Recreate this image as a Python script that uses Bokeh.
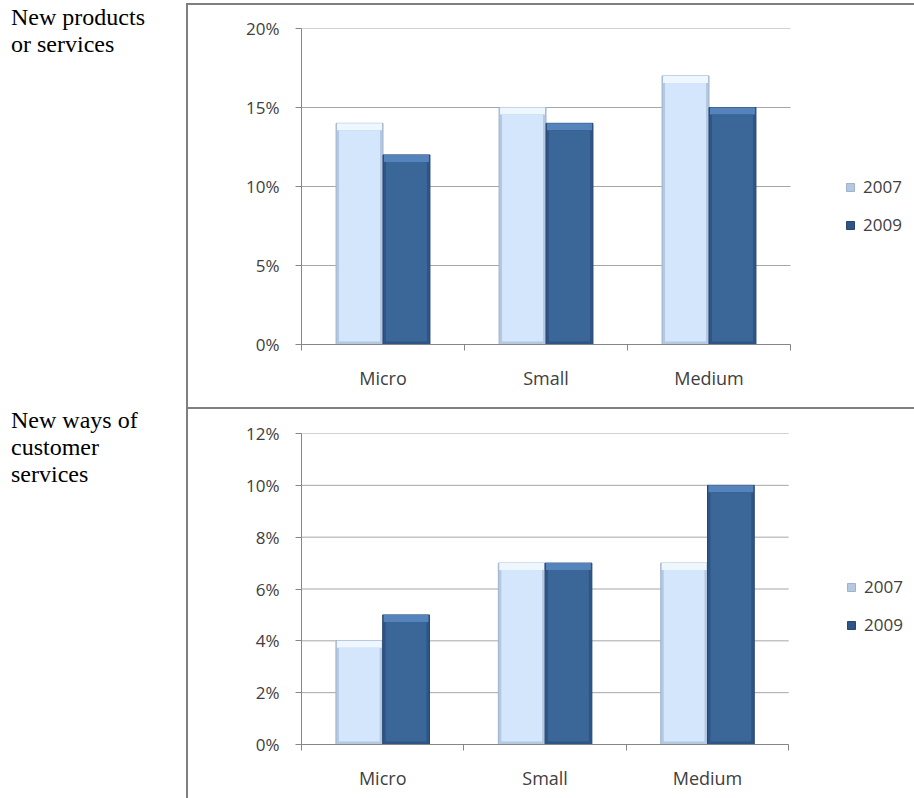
from bokeh.plotting import figure
from bokeh.layouts import row, column
from bokeh.models import (Div, Spacer, FixedTicker, NumeralTickFormatter, Legend,
                          LegendItem, Range1d)
from bokeh.embed import file_html
from bokeh.resources import INLINE

# ---- data -------------------------------------------------------------
categories = ["Micro", "Small", "Medium"]
years = ["2007", "2009"]

products_2007 = [0.14, 0.15, 0.17]
products_2009 = [0.12, 0.14, 0.15]
products_ticks = [0.0, 0.05, 0.10, 0.15, 0.20]

service_2007 = [0.04, 0.07, 0.07]
service_2009 = [0.05, 0.07, 0.10]
service_ticks = [0.0, 0.02, 0.04, 0.06, 0.08, 0.10, 0.12]

panel_titles = ["New products<br>or services", "New ways of<br>customer<br>services"]

# ---- style ------------------------------------------------------------
FONT = "Open Sans"
TEXT = "#404040"
AXIS = "#868686"
GRID = "#a6a6a6"
FRAME = "#7f7f7f"

LIGHT = dict(side="#b4c8e1", edge="#9fb3cc", face="#d4e6fc", top="#eef6fe")
DARK = dict(side="#2f5586", edge="#27466f", face="#3b6698", top="#5583bb")

FIG_W = 726
BAR_W = 0.288
LEGEND_ROW = 23      # height of one legend entry, px
LEGEND_GAP = 15


def bevel_bars(p, xs, tops, px_x, px_y, c):
    """Column with a bevelled look: dark rim, light top band, inset face."""
    body = p.vbar(x=xs, top=tops, bottom=0, width=BAR_W,
                  fill_color=c["side"], line_color=c["edge"], line_width=1)
    half = BAR_W / 2
    p.quad(left=[x - half + px_x for x in xs], right=[x + half - px_x for x in xs],
           top=tops, bottom=[t - 7 * px_y for t in tops],
           fill_color=c["top"], line_color=None)
    p.vbar(x=xs, top=[t - 7 * px_y for t in tops], bottom=3 * px_y,
           width=BAR_W - 6 * px_x, fill_color=c["face"], line_color=None)
    return body


def make_chart(v07, v09, ticks, height, b_left, plot_w, b_top, frame_h,
               legend_x, legend_top):
    """plot_w is the width of the category area; the frame runs on to the
    right edge so that the legend can sit beside the columns."""
    ymax = ticks[-1]
    n = len(categories)
    frame_w = FIG_W - b_left
    x_end = n * frame_w / plot_w
    p = figure(width=FIG_W, height=height,
               x_range=Range1d(0, x_end), y_range=Range1d(0, ymax),
               output_backend="svg", toolbar_location=None,
               min_border_left=b_left, min_border_right=0,
               min_border_top=b_top, min_border_bottom=height - b_top - frame_h)
    p.outline_line_color = None
    p.background_fill_color = "white"
    p.border_fill_color = "white"

    # horizontal gridlines across the category area only
    p.xgrid.visible = False
    p.ygrid.visible = False
    p.segment(x0=[0] * len(ticks), x1=[n] * len(ticks), y0=ticks, y1=ticks,
              line_color=GRID, line_width=1)

    px_x = n / plot_w
    px_y = ymax / frame_h
    centers = [i + 0.5 for i in range(n)]
    off = BAR_W / 2
    r07 = bevel_bars(p, [c - off for c in centers], v07, px_x, px_y, LIGHT)
    r09 = bevel_bars(p, [c + off for c in centers], v09, px_x, px_y, DARK)

    # category axis: labels centred, tick marks on the category boundaries
    xa = p.xaxis[0]
    xa.bounds = (0, n)
    xa.ticker = FixedTicker(ticks=centers, minor_ticks=list(range(n + 1)))
    xa.major_label_overrides = {c: lab for c, lab in zip(centers, categories)}
    xa.major_tick_line_color = None
    xa.minor_tick_line_color = AXIS
    xa.minor_tick_in = 0
    xa.minor_tick_out = 6
    xa.axis_line_color = AXIS
    xa.major_label_standoff = 15
    xa.major_label_text_font = FONT
    xa.major_label_text_font_size = "18px"
    xa.major_label_text_color = TEXT

    ya = p.yaxis[0]
    ya.ticker = FixedTicker(ticks=ticks, minor_ticks=[])
    ya.formatter = NumeralTickFormatter(format="0%")
    ya.axis_line_color = AXIS
    ya.major_tick_line_color = AXIS
    ya.major_tick_in = 0
    ya.major_tick_out = 6
    ya.major_label_standoff = 16
    ya.major_label_text_font = FONT
    ya.major_label_text_font_size = "17px"
    ya.major_label_text_color = TEXT

    legend_h = 2 * LEGEND_ROW + LEGEND_GAP
    legend = Legend(items=[LegendItem(label=years[0], renderers=[r07]),
                           LegendItem(label=years[1], renderers=[r09])],
                    location=(legend_x, frame_h - legend_top - legend_h),
                    orientation="vertical",
                    padding=0, margin=0, spacing=LEGEND_GAP, label_height=20,
                    glyph_width=10, glyph_height=10, label_standoff=8,
                    border_line_color=None, background_fill_alpha=0,
                    label_text_font=FONT, label_text_font_size="17px",
                    label_text_color=TEXT)
    p.add_layout(legend)
    return p


top_chart = make_chart(products_2007, products_2009, products_ticks,
                       height=402, b_left=113, plot_w=489, b_top=23, frame_h=316,
                       legend_x=544, legend_top=147)
bottom_chart = make_chart(service_2007, service_2009, service_ticks,
                          height=389, b_left=112, plot_w=488, b_top=24, frame_h=311,
                          legend_x=545, legend_top=142)


def rule(w, h):
    return Div(text="", width=w, height=h, margin=0,
               styles={"background-color": FRAME})


label_style = ("position:absolute; left:11px; font-family:'Liberation Serif';"
               "font-size:24px; line-height:27px; color:#000;")
labels = Div(
    text=(f'<div style="position:relative; width:186px; height:798px;">'
          f'<div style="{label_style} top:4px;">{panel_titles[0]}</div>'
          f'<div style="{label_style} top:407px;">{panel_titles[1]}</div>'
          f'</div>'),
    width=186, height=798, margin=0)

right_side = column(Spacer(height=3, margin=0), rule(FIG_W, 2), top_chart,
                    rule(FIG_W, 2), bottom_chart, spacing=0)
divider = column(Spacer(height=3, margin=0), rule(2, 795), spacing=0)
page = row(labels, divider, right_side, spacing=0)

with open("out.html", "w") as f:
    f.write(file_html(page, INLINE, title="Innovation by firm size"))
